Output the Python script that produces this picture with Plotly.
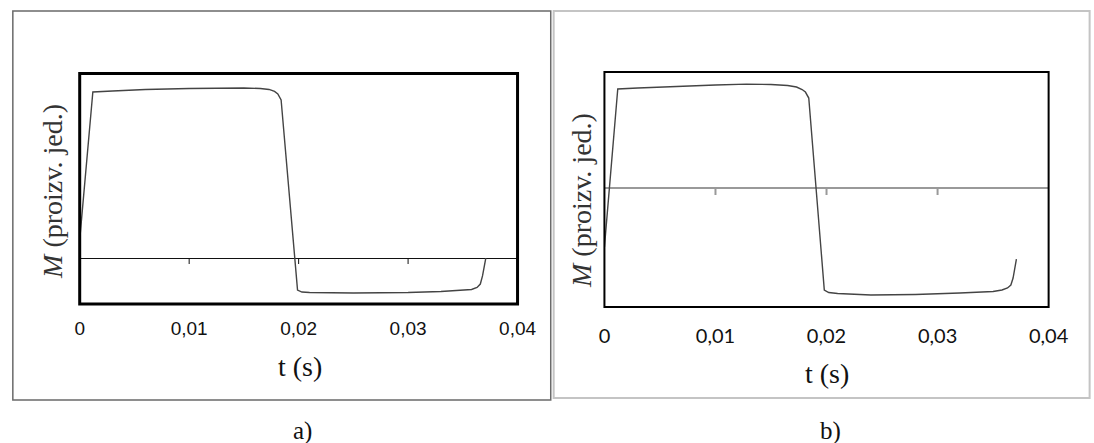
import plotly.graph_objects as go

# ---------------- data ----------------
t_a = [0, 0.0012, 0.003, 0.006, 0.010, 0.013, 0.015, 0.0165, 0.0173, 0.0178, 0.0181, 0.0184,
       0.0199, 0.0203, 0.021, 0.025, 0.030, 0.033, 0.035, 0.0358, 0.0363, 0.0366, 0.0368, 0.0371]
m_a = [0.171, 1.581, 1.590, 1.605, 1.614, 1.619, 1.619, 1.614, 1.605, 1.586, 1.562, 1.505,
       -0.305, -0.324, -0.329, -0.333, -0.329, -0.319, -0.310, -0.300, -0.281, -0.248, -0.171, 0.0]

t_b = [0, 0.0012, 0.003, 0.006, 0.010, 0.0128, 0.015, 0.0165, 0.0173, 0.0178, 0.0181, 0.0184,
       0.0198, 0.0202, 0.021, 0.024, 0.028, 0.032, 0.035, 0.0358, 0.0363, 0.0366, 0.0368, 0.0371]
m_b = [-0.562, 0.943, 0.952, 0.967, 0.981, 0.990, 0.986, 0.976, 0.962, 0.938, 0.914, 0.857,
       -0.971, -0.995, -1.005, -1.019, -1.014, -1.000, -0.986, -0.971, -0.952, -0.924, -0.857, -0.676]

tick_vals = [0, 0.01, 0.02, 0.03, 0.04]
tick_text = ["0", "0,01", "0,02", "0,03", "0,04"]
inner_ticks = [0.01, 0.02, 0.03]
x_title = "t (s)"
y_title = "<i>M</i> (proizv. jed.)"
panel_labels = ["a)", "b)"]

# ---------------- layout helpers ----------------
W, H = 1094, 443
px = lambda v: v / W
py = lambda v: 1 - v / H

fig = go.Figure()
fig.add_trace(go.Scatter(x=t_a, y=m_a, mode="lines", line=dict(color="#444", width=1.4),
                         xaxis="x", yaxis="y", showlegend=False, hoverinfo="skip"))
fig.add_trace(go.Scatter(x=t_b, y=m_b, mode="lines", line=dict(color="#444", width=1.4),
                         xaxis="x2", yaxis="y2", showlegend=False, hoverinfo="skip"))

common_x = dict(range=[0, 0.04], tickvals=tick_vals, ticktext=tick_text, showgrid=False,
                zeroline=False, showline=False, ticks="outside", tickcolor="rgba(0,0,0,0)")
fig.update_layout(
    width=W, height=H, margin=dict(l=0, r=0, t=0, b=0),
    paper_bgcolor="white", plot_bgcolor="white",
    xaxis=dict(domain=[px(75.5), px(524)], anchor="y", ticklen=7,
               tickfont=dict(family="Liberation Sans", size=19, color="#111"), **common_x),
    yaxis=dict(domain=[py(304), py(73.5)], anchor="x", range=[-0.438, 1.757],
               showgrid=False, showticklabels=False, showline=False,
               zeroline=True, zerolinecolor="#111", zerolinewidth=1),
    xaxis2=dict(domain=[px(613), px(1068)], anchor="y2", ticklen=11,
                tickfont=dict(family="Lato", size=20, color="#111"), **common_x),
    yaxis2=dict(domain=[py(307), py(72)], anchor="x2", range=[-1.133, 1.105],
                showgrid=False, showticklabels=False, showline=False,
                zeroline=True, zerolinecolor="#999", zerolinewidth=2),
)

shapes = []
# outer frames
shapes.append(dict(type="rect", xref="paper", yref="paper", x0=px(7), x1=px(558), y0=py(400), y1=py(11),
                   line=dict(color="#6a6a6a", width=1.5), layer="below"))
shapes.append(dict(type="rect", xref="paper", yref="paper", x0=px(561), x1=px(1110), y0=py(398), y1=py(11),
                   line=dict(color="#c4c4c4", width=2), layer="below"))
# plot boxes
shapes.append(dict(type="rect", xref="x domain", yref="y domain", x0=0, x1=1, y0=0, y1=1,
                   line=dict(color="black", width=3)))
shapes.append(dict(type="rect", xref="x2 domain", yref="y2 domain", x0=0, x1=1, y0=0, y1=1,
                   line=dict(color="black", width=2)))
# ticks on the zero lines
for t in inner_ticks:
    shapes.append(dict(type="line", xref="x", yref="y", ysizemode="pixel", yanchor=0,
                       x0=t, x1=t, y0=0, y1=-6, line=dict(color="#111", width=1)))
    shapes.append(dict(type="line", xref="x2", yref="y2", ysizemode="pixel", yanchor=0,
                       x0=t, x1=t, y0=0, y1=-7, line=dict(color="#999", width=2)))
fig.update_layout(shapes=shapes)

serif = "Liberation Serif"
ann = []
ann.append(dict(x=px(47), y=py(191), xref="paper", yref="paper", text=y_title, textangle=-90,
                showarrow=False, font=dict(family=serif, size=28, color="#333"),
                xanchor="center", yanchor="middle"))
ann.append(dict(x=px(589), y=py(201), xref="paper", yref="paper", text=y_title, textangle=-90,
                showarrow=False, font=dict(family=serif, size=28, color="#333"),
                xanchor="center", yanchor="middle"))
ann.append(dict(x=px(301), y=py(366), xref="paper", yref="paper", text=x_title, showarrow=False,
                font=dict(family=serif, size=28, color="#111"), xanchor="center", yanchor="middle"))
ann.append(dict(x=px(841), y=py(373), xref="paper", yref="paper", text=x_title, showarrow=False,
                font=dict(family=serif, size=28, color="#111"), xanchor="center", yanchor="middle"))
ann.append(dict(x=px(304), y=py(431), xref="paper", yref="paper", text=panel_labels[0], showarrow=False,
                font=dict(family=serif, size=25, color="#111"), xanchor="center", yanchor="middle"))
ann.append(dict(x=px(845), y=py(431), xref="paper", yref="paper", text=panel_labels[1], showarrow=False,
                font=dict(family=serif, size=25, color="#111"), xanchor="center", yanchor="middle"))
fig.update_layout(annotations=ann)

fig.write_html("out.html", config={"displayModeBar": False},
               post_script="document.body.style.margin='0';document.body.style.overflow='hidden';")
